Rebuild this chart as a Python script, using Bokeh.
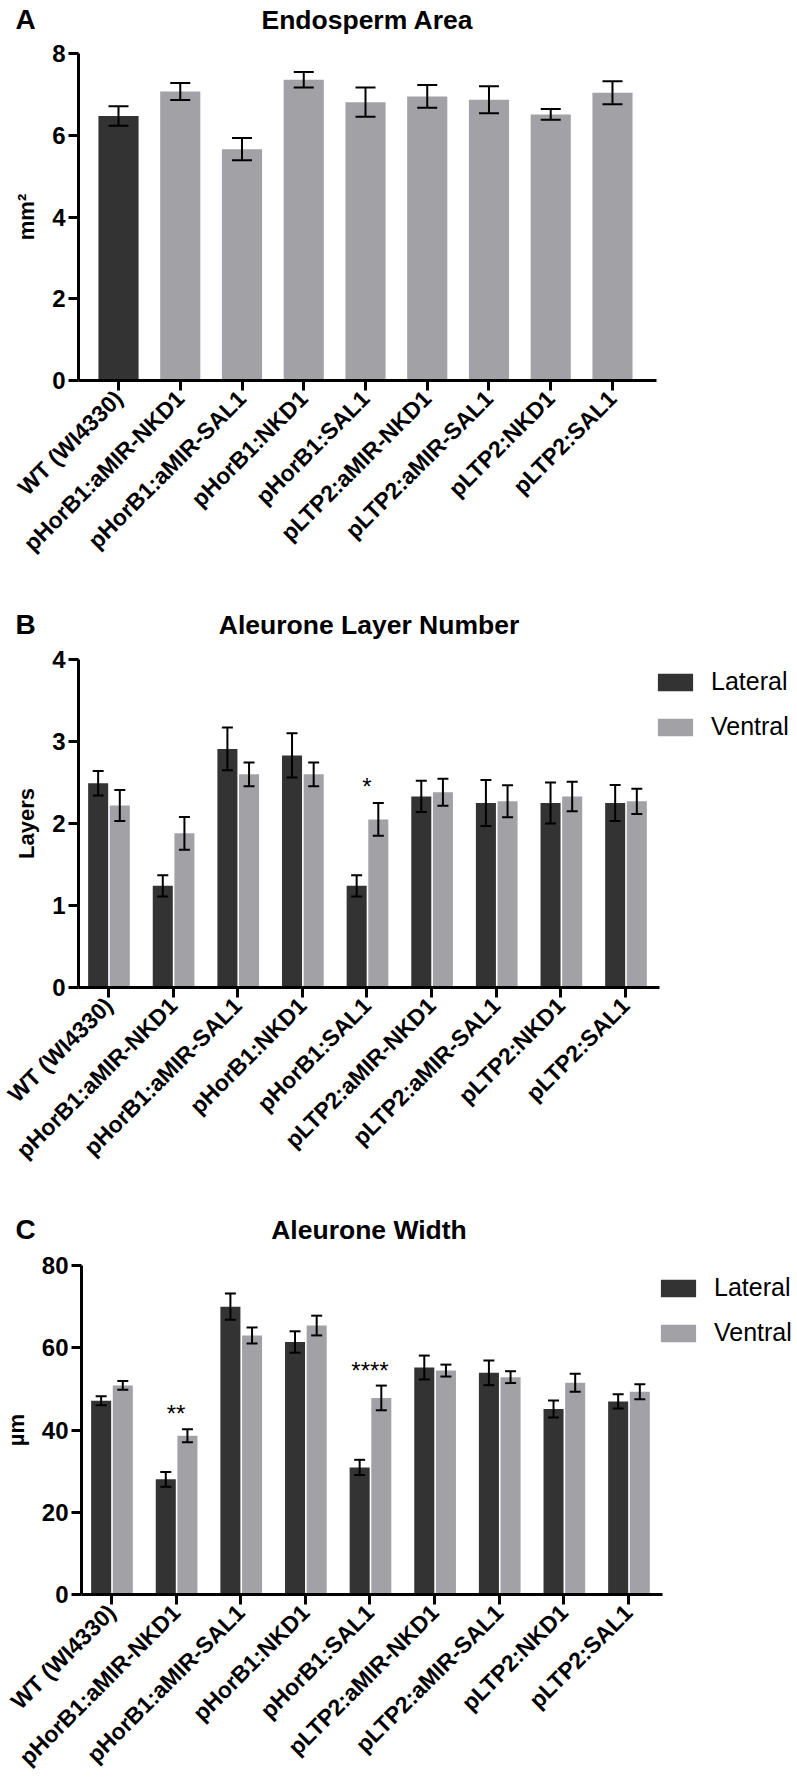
import math
from bokeh.plotting import figure
from bokeh.models import (Range1d, FixedTicker, ColumnDataSource, Whisker, TeeHead,
                          Legend, LegendItem)
from bokeh.layouts import column
from bokeh.embed import file_html
from bokeh.resources import INLINE
from bokeh.core.properties import value

# ---------------- data ----------------
categories = ["WT (WI4330)", "pHorB1:aMIR-NKD1", "pHorB1:aMIR-SAL1", "pHorB1:NKD1",
              "pHorB1:SAL1", "pLTP2:aMIR-NKD1", "pLTP2:aMIR-SAL1", "pLTP2:NKD1", "pLTP2:SAL1"]

area_mean = [6.47, 7.07, 5.66, 7.36, 6.81, 6.95, 6.87, 6.51, 7.04]
area_sem = [0.24, 0.21, 0.27, 0.19, 0.36, 0.28, 0.33, 0.13, 0.28]

layers_lateral = [2.49, 1.24, 2.91, 2.83, 1.24, 2.33, 2.25, 2.25, 2.25]
layers_lateral_sem = [0.15, 0.13, 0.26, 0.27, 0.13, 0.19, 0.28, 0.25, 0.22]
layers_ventral = [2.22, 1.88, 2.60, 2.60, 2.05, 2.38, 2.27, 2.33, 2.27]
layers_ventral_sem = [0.19, 0.20, 0.145, 0.145, 0.20, 0.165, 0.195, 0.18, 0.155]
layers_sig_idx = [4]
layers_sig_text = ["*"]
layers_sig_y = [2.45]

width_lateral = [47.1, 28.0, 70.0, 61.4, 30.9, 55.2, 53.9, 45.1, 46.95]
width_lateral_sem = [1.1, 1.8, 3.2, 2.6, 1.85, 2.9, 3.0, 2.05, 1.75]
width_ventral = [50.85, 38.6, 63.0, 65.4, 47.8, 54.45, 52.85, 51.5, 49.3]
width_ventral_sem = [1.05, 1.6, 1.95, 2.4, 3.0, 1.45, 1.45, 2.2, 1.8]
width_sig_idx = [1, 4]
width_sig_text = ["**", "****"]
width_sig_y = [44.1, 54.55]

series_names = ["Lateral", "Ventral"]
panel_titles = ["Endosperm Area", "Aleurone Layer Number", "Aleurone Width"]
panel_letters = ["A", "B", "C"]

# ---------------- style ----------------
FONT = "Liberation Sans"
DARK = "#333333"
LIGHT = "#A2A1A6"
W = 797


def header(letter, title, h, title_cx):
    """A strip above each chart carrying the panel letter and the panel title,
    both sitting on the strip's lower edge."""
    p = figure(frame_width=W, frame_height=h, x_range=Range1d(0, W), y_range=Range1d(h, 0),
               min_border=0, min_border_left=0, min_border_right=0,
               min_border_top=0, min_border_bottom=0, title_location=None,
               x_axis_type=None, y_axis_type=None, frame_align=False,
               output_backend="svg", toolbar_location=None)
    p.outline_line_color = None
    p.xgrid.visible = False
    p.ygrid.visible = False
    p.text(x=[15], y=[h - 1], text=[letter], text_font=value(FONT),
           text_font_size=value("28px"), text_font_style="bold", text_color="black",
           text_align="left", text_baseline="bottom")
    p.text(x=[title_cx], y=[h - 1], text=[title], text_font=value(FONT),
           text_font_size=value("26.5px"), text_font_style="bold", text_color="black",
           text_align="center", text_baseline="bottom")
    return p


def style(p, yticks, ylabel):
    p.xgrid.visible = False
    p.ygrid.visible = False
    p.outline_line_color = None
    p.background_fill_color = "white"
    p.border_fill_color = "white"
    for ax in (p.xaxis[0], p.yaxis[0]):
        ax.axis_line_width = 3
        ax.axis_line_color = "black"
        ax.major_tick_line_width = 3
        ax.major_tick_line_color = "black"
        ax.major_tick_out = 10
        ax.major_tick_in = 0
        ax.minor_tick_line_color = None
        ax.major_label_text_font = FONT
        ax.major_label_text_font_style = "bold"
        ax.major_label_text_color = "black"
    p.yaxis.ticker = FixedTicker(ticks=yticks)
    p.yaxis.major_label_text_font_size = "24px"
    p.yaxis.major_label_standoff = 3
    p.yaxis.axis_label = ylabel
    p.yaxis.axis_label_text_font = FONT
    p.yaxis.axis_label_text_font_size = "22px"
    p.yaxis.axis_label_text_font_style = "bold"
    p.yaxis.axis_label_text_color = "black"
    p.yaxis.axis_label_standoff = 10
    p.xaxis.ticker = FixedTicker(ticks=list(range(len(categories))))
    p.xaxis.major_label_overrides = {i: c for i, c in enumerate(categories)}
    p.xaxis.major_label_orientation = math.pi / 4
    p.xaxis.major_label_text_font_size = "23px"
    p.xaxis.major_label_standoff = 4


def add_errors(p, xs, means, sems, head):
    src = ColumnDataSource(dict(x=xs,
                                upper=[m + s for m, s in zip(means, sems)],
                                lower=[m - s for m, s in zip(means, sems)]))
    w = Whisker(source=src, base="x", upper="upper", lower="lower",
                line_width=2, line_color="black", level="overlay",
                upper_head=TeeHead(size=head, line_width=2, line_color="black"),
                lower_head=TeeHead(size=head, line_width=2, line_color="black"))
    p.add_layout(w)


xs = list(range(len(categories)))

# ---------------- Panel A ----------------
hA = header(panel_letters[0], panel_titles[0], 35, 367)
pA = figure(frame_width=578, frame_height=327, x_range=Range1d(-0.648, 8.713), y_range=Range1d(0, 8),
            min_border_left=78, min_border_right=141, min_border_top=18, min_border_bottom=220,
            title_location=None, frame_align=False, output_backend="svg", toolbar_location=None)
style(pA, [0, 2, 4, 6, 8], "mm²")
colorsA = [DARK] + [LIGHT] * (len(categories) - 1)
pA.vbar(x=xs, top=area_mean, width=0.65, fill_color=colorsA, line_color=None)
add_errors(pA, xs, area_mean, area_sem, 20)


def grouped(ylim, yticks, ylabel, lat, lat_sem, ven, ven_sem, sig_idx, sig_text, sig_y,
            fheight, top, bottom):
    p = figure(frame_width=581, frame_height=fheight, x_range=Range1d(-0.464, 8.526),
               y_range=Range1d(0, ylim),
               min_border_left=78, min_border_right=138, min_border_top=top, min_border_bottom=bottom,
               title_location=None, frame_align=False, output_backend="svg", toolbar_location=None)
    style(p, yticks, ylabel)
    xl = [x - 0.16 for x in xs]
    xv = [x + 0.175 for x in xs]
    r1 = p.vbar(x=xl, top=lat, width=0.31, fill_color=DARK, line_color=None)
    r2 = p.vbar(x=xv, top=ven, width=0.31, fill_color=LIGHT, line_color=None)
    add_errors(p, xl, lat, lat_sem, 11)
    add_errors(p, xv, ven, ven_sem, 11)
    p.text(x=[xs[i] for i in sig_idx], y=sig_y, text=sig_text,
           text_font=value(FONT), text_font_size=value("24px"), text_color="black",
           text_align="center", text_baseline="alphabetic")
    legend = Legend(items=[LegendItem(label=series_names[0], renderers=[r1]),
                           LegendItem(label=series_names[1], renderers=[r2])],
                    location=(-6, fheight - 82), glyph_width=44, glyph_height=22,
                    label_text_font=FONT, label_text_font_size="25px", label_text_color="black",
                    label_standoff=14, spacing=16, padding=0, margin=0,
                    border_line_color=None, background_fill_alpha=0)
    p.add_layout(legend, "right")
    return p


hB = header(panel_letters[1], panel_titles[1], 40, 368.5)
pB = grouped(4, [0, 1, 2, 3, 4], "Layers",
             layers_lateral, layers_lateral_sem, layers_ventral, layers_ventral_sem,
             layers_sig_idx, layers_sig_text, layers_sig_y, 328, 19, 213)
hC = header(panel_letters[2], panel_titles[2], 45, 368.5)
pC = grouped(80, [0, 20, 40, 60, 80], "µm",
             width_lateral, width_lateral_sem, width_ventral, width_ventral_sem,
             width_sig_idx, width_sig_text, width_sig_y, 329, 20, 184)

layout = column(hA, pA, hB, pB, hC, pC)
open("out.html", "w").write(file_html(layout, INLINE))
